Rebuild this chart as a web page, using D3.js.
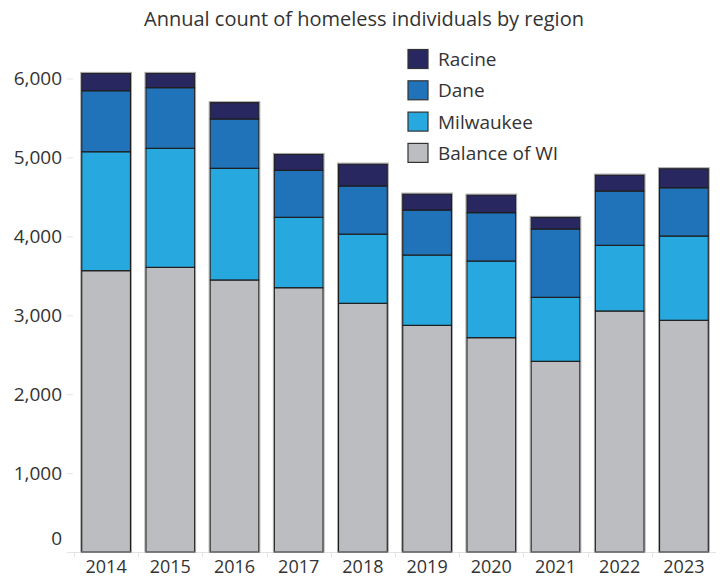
<!DOCTYPE html>
<html>
<head>
<meta charset="utf-8">
<script src="https://cdn.jsdelivr.net/npm/d3@7"></script>
<style>
  body { margin: 0; background: #fff; }
  svg text { font-family: "Open Sans", sans-serif; fill: #333; }
</style>
</head>
<body>
<div id="chart"></div>
<script>
// values
const years = ['2014', '2015', '2016', '2017', '2018', '2019', '2020', '2021', '2022', '2023'];
const balanceWI = [3565, 3607, 3447, 3349, 3151, 2872, 2716, 2416, 3054, 2936];
const milwaukee = [1507, 1508, 1415, 892, 877, 891, 971, 811, 832, 1068];
const dane = [773, 769, 625, 595, 610, 570, 613, 866, 688, 612];
const racine = [221, 182, 207, 203, 278, 203, 223, 148, 203, 241];
const yTicks = [0, 1000, 2000, 3000, 4000, 5000, 6000];

const seriesKeys = ['Balance of WI', 'Milwaukee', 'Dane', 'Racine'];
const colors = ['#bcbdc0', '#27a8df', '#2173b9', '#29275f'];

const table = years.map((y, i) => ({
  year: y,
  'Balance of WI': balanceWI[i],
  'Milwaukee': milwaukee[i],
  'Dane': dane[i],
  'Racine': racine[i]
}));

const width = 720, height = 579;

const svg = d3.select('#chart').append('svg')
    .attr('width', width)
    .attr('height', height);

const x = d3.scaleBand()
    .domain(years)
    .range([74, 716])
    .paddingInner(0.24)
    .paddingOuter(0.12);

const y = d3.scaleLinear()
    .domain([0, 6000])
    .range([552, 78.5]);

const color = d3.scaleOrdinal().domain(seriesKeys).range(colors);

// title
svg.append('text')
    .attr('x', 364)
    .attr('y', 26)
    .attr('text-anchor', 'middle')
    .style('font-size', '20px')
    .text('Annual count of homeless individuals by region');

// y axis
const yAxis = svg.append('g')
    .attr('transform', 'translate(73,0)')
    .call(d3.axisLeft(y).tickValues(yTicks).tickSize(6).tickPadding(5).tickFormat(d3.format(',')));
yAxis.select('.domain').remove();
yAxis.selectAll('.tick line').attr('stroke', '#e3e3e3');
yAxis.selectAll('.tick text')
    .style('font-size', '19px')
    .attr('dy', d => d === 0 ? '-0.4em' : '0.32em');

// x axis
const xAxis = svg.append('g')
    .attr('transform', 'translate(0,552)')
    .call(d3.axisBottom(x).tickSize(0).tickPadding(8));
xAxis.select('.domain').remove();
xAxis.selectAll('.tick text').style('font-size', '18px');

// baseline and category separators
svg.append('line')
    .attr('x1', 67).attr('x2', 716)
    .attr('y1', 552.5).attr('y2', 552.5)
    .attr('stroke', '#e3e3e3');
svg.append('g').selectAll('line')
    .data(years)
    .join('line')
    .attr('x1', d => Math.round(x(d) - x.step() * x.paddingInner() / 2) + 0.5)
    .attr('x2', d => Math.round(x(d) - x.step() * x.paddingInner() / 2) + 0.5)
    .attr('y1', 552).attr('y2', 557)
    .attr('stroke', '#e3e3e3');

// stacked bars
const stacked = d3.stack().keys(seriesKeys)(table);

svg.append('g').selectAll('g')
    .data(stacked)
    .join('g')
    .attr('fill', d => color(d.key))
    .selectAll('rect')
    .data(d => d)
    .join('rect')
    .attr('x', d => x(d.data.year))
    .attr('width', x.bandwidth())
    .attr('y', d => y(d[1]))
    .attr('height', d => y(d[0]) - y(d[1]))
    .attr('stroke', '#1e1e1e')
    .attr('stroke-width', 1.2);

// outer halo for each bar
svg.append('g').selectAll('rect')
    .data(table)
    .join('rect')
    .attr('x', d => x(d.year) - 1)
    .attr('width', x.bandwidth() + 2)
    .attr('y', d => y(d3.sum(seriesKeys, k => d[k])) - 1)
    .attr('height', d => y(0) - y(d3.sum(seriesKeys, k => d[k])) + 1)
    .attr('fill', 'none')
    .attr('stroke', '#9a9a9a')
    .attr('stroke-width', 0.8);

// legend
const legendKeys = seriesKeys.slice().reverse();
const legend = svg.append('g')
    .selectAll('g')
    .data(legendKeys)
    .join('g')
    .attr('transform', (d, i) => `translate(408,${49.5 + i * 31.3})`);

legend.append('rect')
    .attr('width', 20)
    .attr('height', 19)
    .attr('fill', d => color(d))
    .attr('stroke', '#333')
    .attr('stroke-width', 1.2);

legend.append('text')
    .attr('x', 30)
    .attr('y', 10)
    .attr('dy', '0.35em')
    .style('font-size', '19px')
    .text(d => d);
</script>
</body>
</html>
